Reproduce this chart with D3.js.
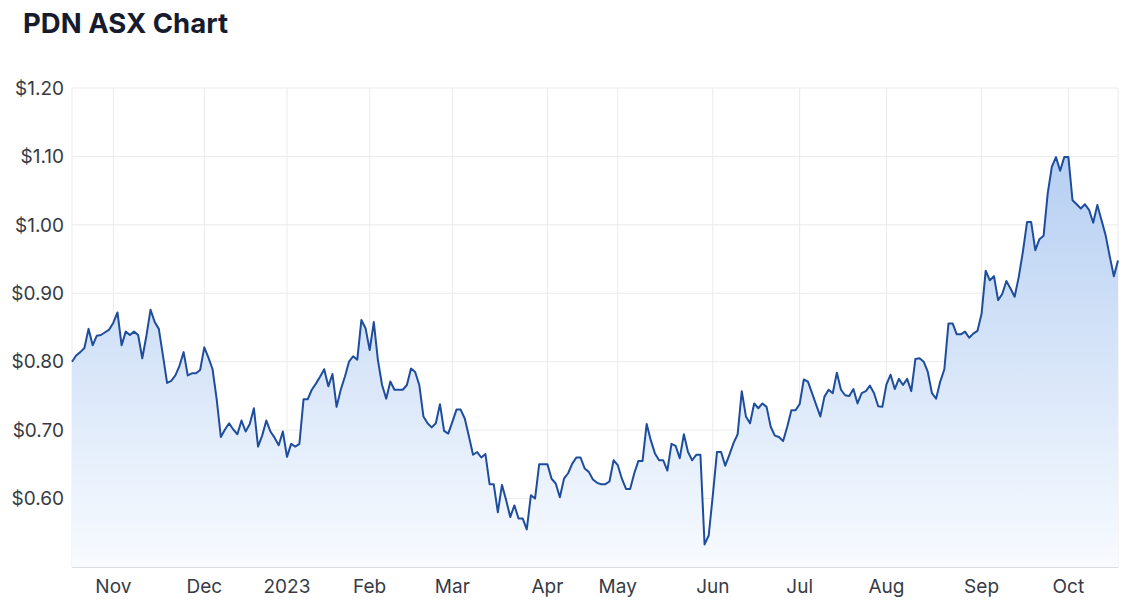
<!DOCTYPE html>
<html>
<head>
<meta charset="utf-8">
<script src="https://cdn.jsdelivr.net/npm/d3@7"></script>
<style>
  html, body { margin: 0; padding: 0; background: #ffffff; }
  svg { display: block; font-family: Inter, "Noto Sans", sans-serif; }
</style>
</head>
<body>
<svg id="chart" width="1132" height="607"></svg>
<script>
// ---- Data ----
const title = "PDN ASX Chart";
const startDate = "2022-10-18";
const endDate = "2023-10-18";
const holidays = ["2022-12-26", "2022-12-27", "2023-01-02", "2023-01-26", "2023-04-07", "2023-04-10", "2023-04-25", "2023-06-12"];
const prices = [
  0.800, 0.809, 0.814, 0.820, 0.848, 0.824, 0.838, 0.839, 0.843, 0.847,
  0.857, 0.872, 0.824, 0.844, 0.839, 0.844, 0.839, 0.805, 0.838, 0.876,
  0.858, 0.848, 0.809, 0.769, 0.772, 0.780, 0.794, 0.814, 0.780, 0.783,
  0.783, 0.788, 0.821, 0.806, 0.789, 0.745, 0.690, 0.701, 0.710, 0.701,
  0.694, 0.714, 0.698, 0.709, 0.732, 0.676, 0.692, 0.714, 0.698, 0.689,
  0.678, 0.698, 0.661, 0.680, 0.676, 0.680, 0.745, 0.745, 0.759, 0.768,
  0.778, 0.789, 0.764, 0.782, 0.734, 0.759, 0.778, 0.800, 0.808, 0.803,
  0.861, 0.849, 0.817, 0.858, 0.802, 0.766, 0.746, 0.771, 0.759, 0.759,
  0.759, 0.766, 0.790, 0.785, 0.766, 0.720, 0.710, 0.704, 0.710, 0.738,
  0.699, 0.695, 0.712, 0.730, 0.730, 0.717, 0.691, 0.664, 0.668, 0.660,
  0.665, 0.621, 0.621, 0.580, 0.620, 0.598, 0.573, 0.590, 0.571, 0.571,
  0.555, 0.605, 0.600, 0.650, 0.650, 0.650, 0.629, 0.622, 0.602, 0.629,
  0.637, 0.651, 0.660, 0.660, 0.644, 0.639, 0.628, 0.623, 0.621, 0.621,
  0.625, 0.656, 0.649, 0.629, 0.614, 0.614, 0.637, 0.655, 0.655, 0.709,
  0.685, 0.666, 0.656, 0.656, 0.641, 0.680, 0.677, 0.659, 0.694, 0.668,
  0.656, 0.664, 0.664, 0.533, 0.546, 0.605, 0.668, 0.668, 0.648, 0.664,
  0.681, 0.694, 0.757, 0.720, 0.710, 0.739, 0.732, 0.739, 0.734, 0.705,
  0.692, 0.690, 0.684, 0.705, 0.729, 0.729, 0.738, 0.774, 0.771, 0.754,
  0.737, 0.720, 0.749, 0.759, 0.754, 0.784, 0.759, 0.751, 0.750, 0.760,
  0.739, 0.754, 0.757, 0.765, 0.754, 0.735, 0.734, 0.767, 0.781, 0.760,
  0.775, 0.766, 0.775, 0.757, 0.804, 0.805, 0.800, 0.785, 0.754, 0.746,
  0.771, 0.789, 0.856, 0.856, 0.840, 0.840, 0.844, 0.835, 0.841, 0.845,
  0.870, 0.933, 0.919, 0.925, 0.890, 0.899, 0.918, 0.907, 0.895, 0.924,
  0.961, 1.004, 1.004, 0.963, 0.979, 0.984, 1.046, 1.085, 1.099, 1.079,
  1.099, 1.099, 1.036, 1.030, 1.024, 1.030, 1.022, 1.003, 1.029, 1.007,
  0.985, 0.954, 0.925, 0.948
];
const yTicks = [0.60, 0.70, 0.80, 0.90, 1.00, 1.10, 1.20];
const yDomain = [0.50, 1.20];
const monthNames = ["Jan","Feb","Mar","Apr","May","Jun","Jul","Aug","Sep","Oct","Nov","Dec"];

// ---- Trading days (weekdays, minus ASX holidays) ----
const fmt = d3.utcFormat("%Y-%m-%d");
const hol = new Set(holidays);
const tradingDays = d3.utcDays(new Date(startDate + "T00:00:00Z"), d3.utcDay.offset(new Date(endDate + "T00:00:00Z"), 1))
  .filter(d => d.getUTCDay() !== 0 && d.getUTCDay() !== 6 && !hol.has(fmt(d)));
const data = tradingDays.slice(0, prices.length).map((d, i) => ({ i, date: d, v: prices[i] }));

// month ticks: first trading day of each month (after the first)
const monthTicks = [];
data.forEach((d, k) => {
  if (k > 0 && d.date.getUTCMonth() !== data[k - 1].date.getUTCMonth()) monthTicks.push(d);
});

// ---- Layout ----
const svg = d3.select("#chart");
const W = 1132, H = 607;
const m = { left: 72, right: 14, top: 88, bottom: 40 };
const plotW = W - m.left - m.right;
const plotH = H - m.top - m.bottom;

const x = d3.scaleLinear().domain([0, data.length - 1]).range([m.left, m.left + plotW]);
const y = d3.scaleLinear().domain(yDomain).range([m.top + plotH, m.top]);

// title
svg.append("text")
  .attr("x", 23).attr("y", 33)
  .attr("font-size", 27.5).attr("font-weight", 700)
  .attr("fill", "#161c2d")
  .text(title);

// gradient
const defs = svg.append("defs");
const grad = defs.append("linearGradient")
  .attr("id", "areaGrad")
  .attr("gradientUnits", "userSpaceOnUse")
  .attr("x1", 0).attr("x2", 0)
  .attr("y1", y(d3.max(prices))).attr("y2", y(yDomain[0]));
grad.append("stop").attr("offset", "0%").attr("stop-color", "#b6cff2");
grad.append("stop").attr("offset", "100%").attr("stop-color", "#f8fbff");

// grid
const grid = svg.append("g");
grid.selectAll("line.h").data(yTicks).join("line")
  .attr("x1", m.left).attr("x2", m.left + plotW)
  .attr("y1", d => y(d)).attr("y2", d => y(d))
  .attr("stroke", "#ebebeb").attr("stroke-width", 1);
grid.selectAll("line.v").data(monthTicks).join("line")
  .attr("x1", d => x(d.i)).attr("x2", d => x(d.i))
  .attr("y1", m.top).attr("y2", m.top + plotH)
  .attr("stroke", "#ebebeb").attr("stroke-width", 1);
// plot borders
grid.append("line").attr("x1", m.left).attr("x2", m.left).attr("y1", m.top).attr("y2", m.top + plotH).attr("stroke", "#ebebeb");
grid.append("line").attr("x1", m.left + plotW).attr("x2", m.left + plotW).attr("y1", m.top).attr("y2", m.top + plotH).attr("stroke", "#ebebeb");

// area
const area = d3.area().x(d => x(d.i)).y0(y(yDomain[0])).y1(d => y(d.v));
svg.append("path").datum(data).attr("d", area).attr("fill", "url(#areaGrad)");

// line
const line = d3.line().x(d => x(d.i)).y(d => y(d.v));
svg.append("path").datum(data).attr("d", line)
  .attr("fill", "none").attr("stroke", "#1e4d9e").attr("stroke-width", 2)
  .attr("stroke-linejoin", "round");

// bottom axis line
svg.append("line")
  .attr("x1", m.left).attr("x2", m.left + plotW)
  .attr("y1", m.top + plotH + 0.5).attr("y2", m.top + plotH + 0.5)
  .attr("stroke", "#dcdcdc");

// y labels
svg.append("g").selectAll("text").data(yTicks).join("text")
  .attr("x", 64).attr("y", d => y(d))
  .attr("dy", "0.35em").attr("text-anchor", "end")
  .attr("font-size", 19).attr("fill", "#363b45")
  .text(d => "$" + d.toFixed(2));

// x labels
svg.append("g").selectAll("text").data(monthTicks).join("text")
  .attr("x", d => x(d.i)).attr("y", 593)
  .attr("text-anchor", "middle")
  .attr("font-size", 19).attr("fill", "#363b45")
  .text(d => d.date.getUTCMonth() === 0 ? String(d.date.getUTCFullYear()) : monthNames[d.date.getUTCMonth()]);
</script>
</body>
</html>
